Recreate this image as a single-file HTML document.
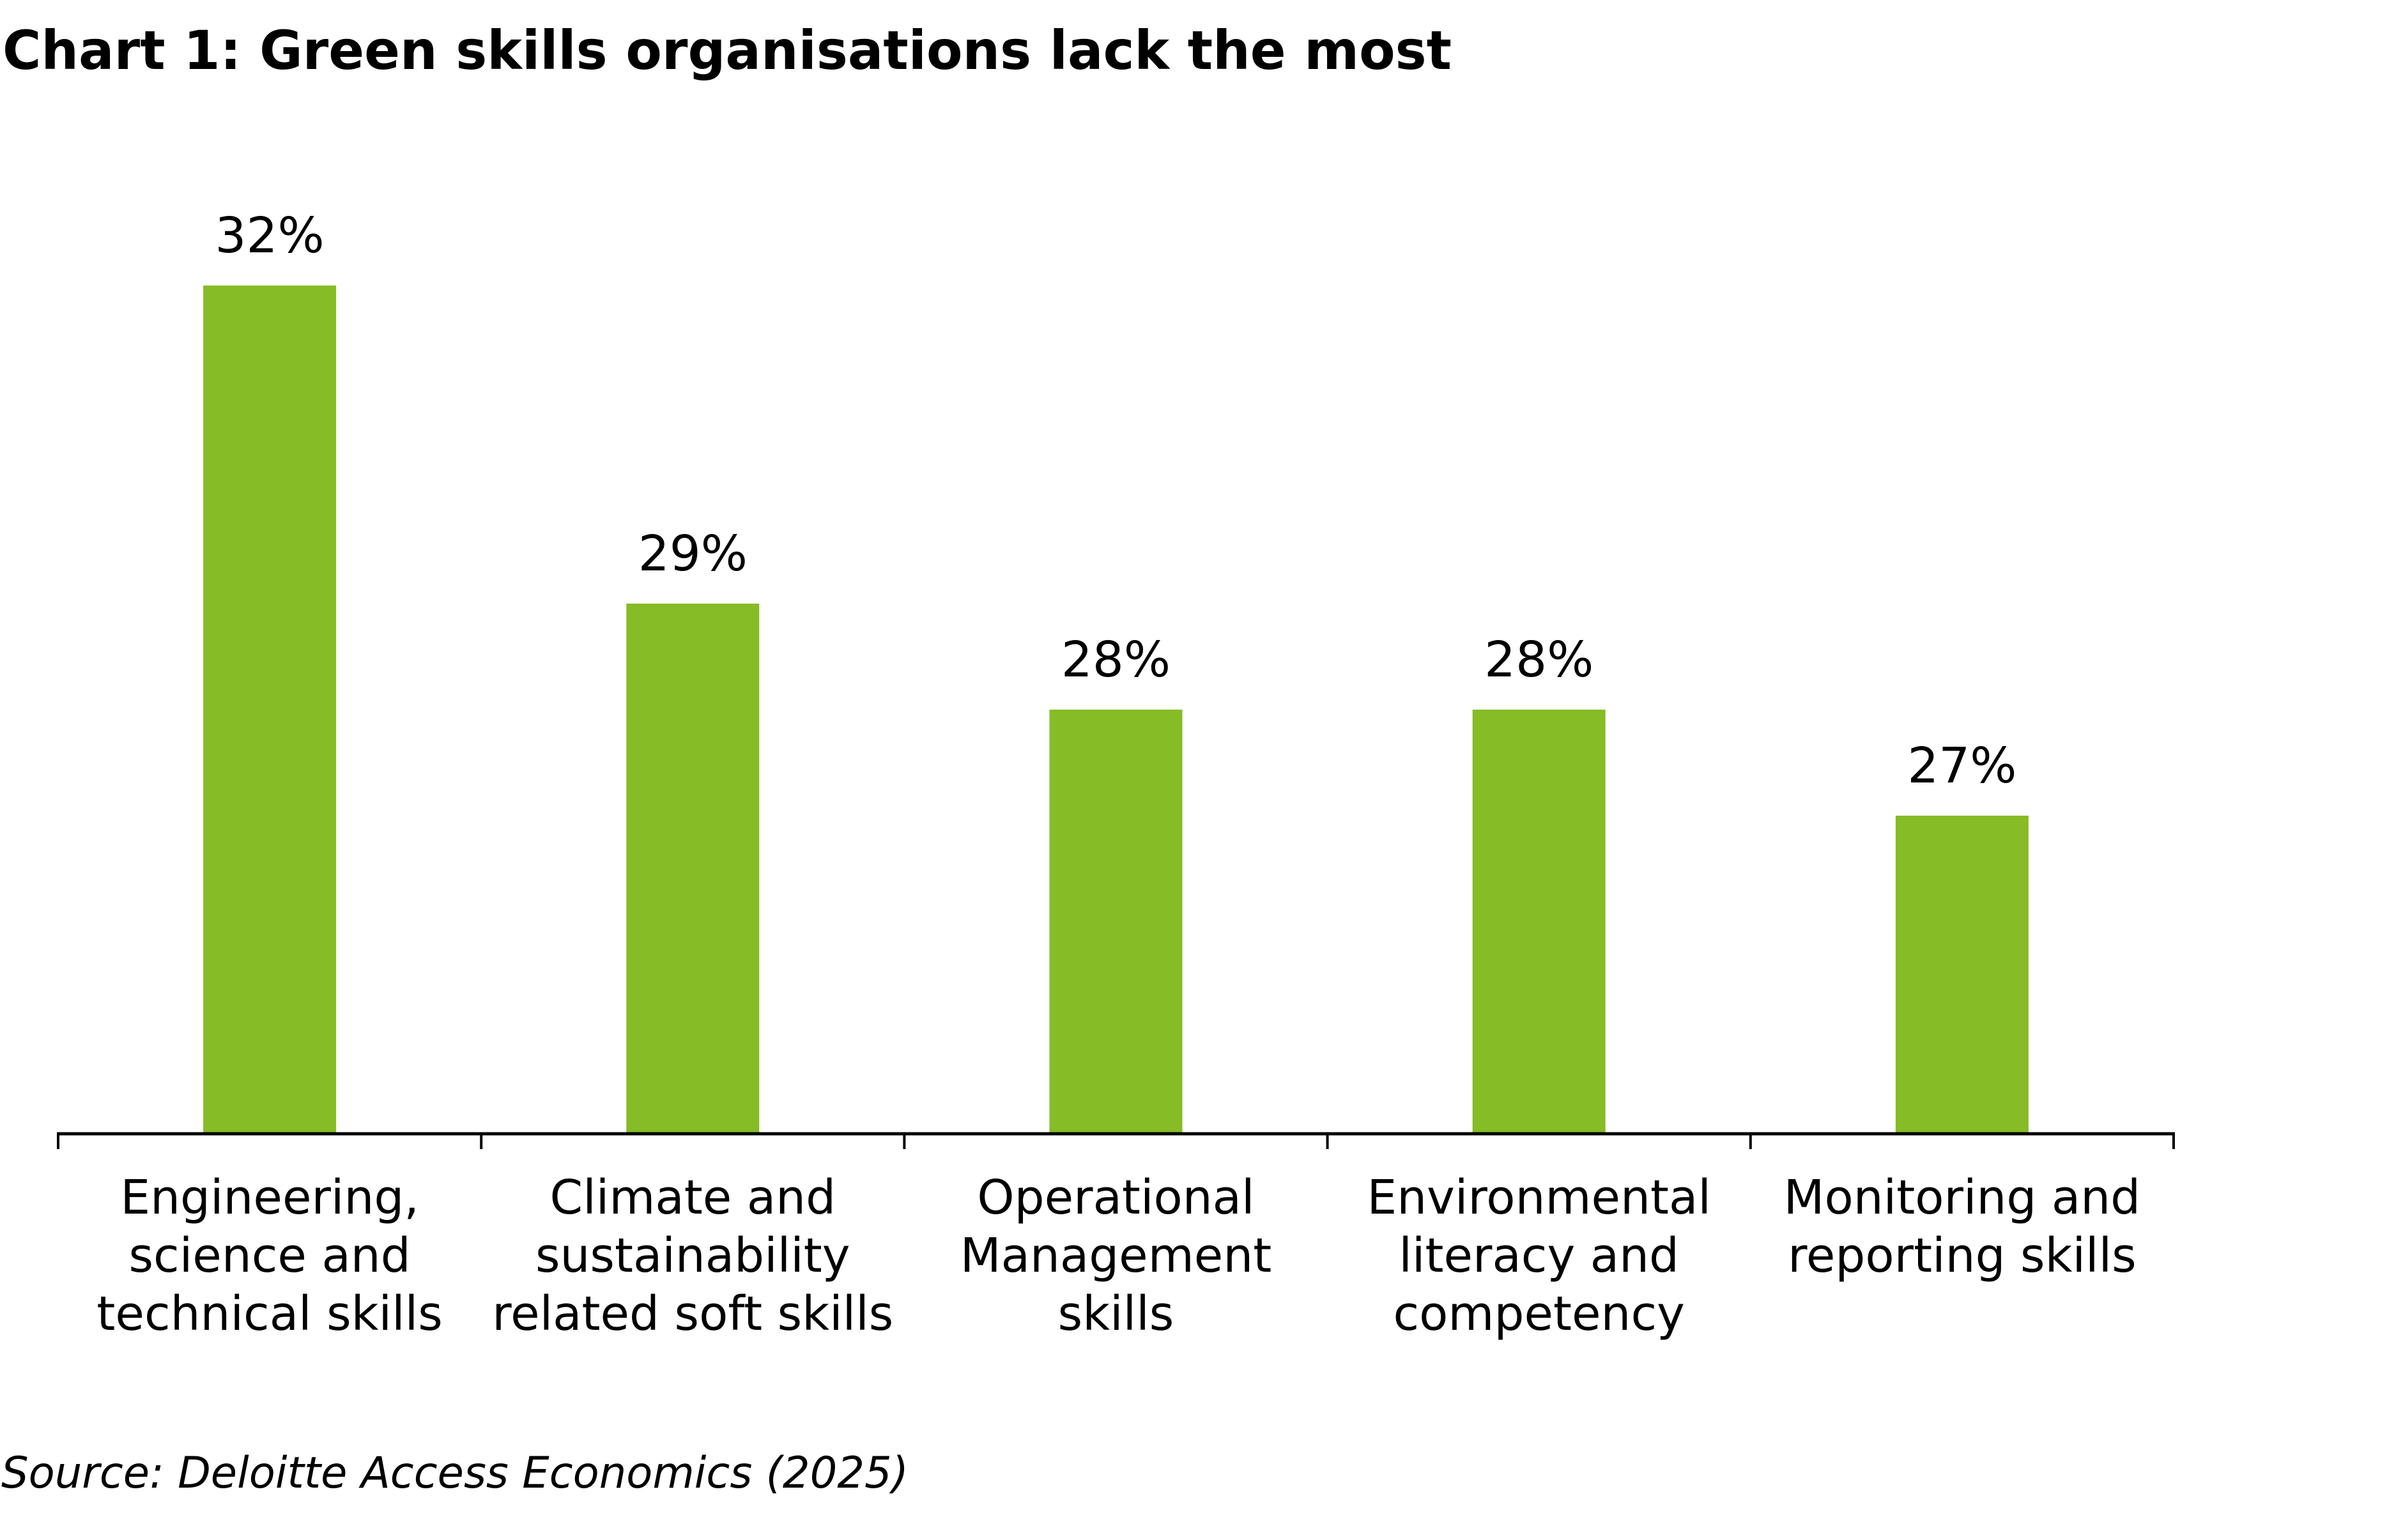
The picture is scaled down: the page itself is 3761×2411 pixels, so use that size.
<!DOCTYPE html>
<html><head><meta charset="utf-8"><style>
html,body{margin:0;padding:0;background:#fff}
svg{display:block}
text{font-family:"DejaVu Sans","Liberation Sans",sans-serif;fill:#000}
</style></head><body>
<svg id="chart" width="3761" height="2411" viewBox="0 0 3761 2411" xmlns="http://www.w3.org/2000/svg">
<text x="4" y="108" font-size="84" font-weight="bold" textLength="2268" lengthAdjust="spacingAndGlyphs">Chart 1: Green skills organisations lack the most</text>
<g id="bars"></g>
<g id="axis"></g>
<text x="2" y="2329" font-size="68" font-style="italic" textLength="1420" lengthAdjust="spacingAndGlyphs">Source: Deloitte Access Economics (2025)</text>
</svg>
<script>
const categories = [
  ["Engineering,","science and","technical skills"],
  ["Climate and","sustainability","related soft skills"],
  ["Operational","Management","skills"],
  ["Environmental","literacy and","competency"],
  ["Monitoring and","reporting skills"]
];
const values = [32, 29, 28, 28, 27];
const valueLabels = ["32%","29%","28%","28%","27%"];

const NS = "http://www.w3.org/2000/svg";
const axisLeft = 91, axisRight = 3402, axisY = 1775;
const yMin = 24, pxPerUnit = 166;
const band = (axisRight - axisLeft) / categories.length;
const barW = 208;
const xCenter = i => axisLeft + band * (i + 0.5);
const yScale = v => axisY - (v - yMin) * pxPerUnit;

const barsG = document.getElementById('bars');
const axisG = document.getElementById('axis');

values.forEach((v, i) => {
  const r = document.createElementNS(NS, 'rect');
  
  
  const top = yScale(v);
  r.setAttribute('x', xCenter(i) - barW / 2);
  r.setAttribute('y', top);
  r.setAttribute('width', barW);
  r.setAttribute('height', axisY - top);
  r.setAttribute('fill', '#86BC25');
  barsG.appendChild(r);

  const t = document.createElementNS(NS, 'text');
  
  
  t.setAttribute('x', xCenter(i));
  t.setAttribute('y', top - 52);
  t.setAttribute('font-size', '77');
  t.setAttribute('text-anchor', 'middle');
  t.textContent = valueLabels[i];
  barsG.appendChild(t);

  const lbl = document.createElementNS(NS, 'text');
  
  
  lbl.setAttribute('font-size', '74');
  lbl.setAttribute('text-anchor', 'middle');
  categories[i].forEach((line, k) => {
    const ts = document.createElementNS(NS, 'tspan');
    ts.setAttribute('x', xCenter(i));
    ts.setAttribute('y', 1900 + k * 91);
    ts.textContent = line;
    lbl.appendChild(ts);
  });
  axisG.appendChild(lbl);
});

const line = document.createElementNS(NS, 'line');


line.setAttribute('x1', axisLeft - 2); line.setAttribute('x2', axisRight + 2);
line.setAttribute('y1', axisY); line.setAttribute('y2', axisY);
line.setAttribute('stroke', '#000'); line.setAttribute('stroke-width', '5');
axisG.appendChild(line);

for (let i = 0; i <= categories.length; i++) {
  const tk = document.createElementNS(NS, 'line');
  
  
  const x = axisLeft + band * i;
  tk.setAttribute('x1', x); tk.setAttribute('x2', x);
  tk.setAttribute('y1', axisY); tk.setAttribute('y2', 1799);
  tk.setAttribute('stroke', '#000'); tk.setAttribute('stroke-width', '4');
  axisG.appendChild(tk);
}
</script>
</body></html>
